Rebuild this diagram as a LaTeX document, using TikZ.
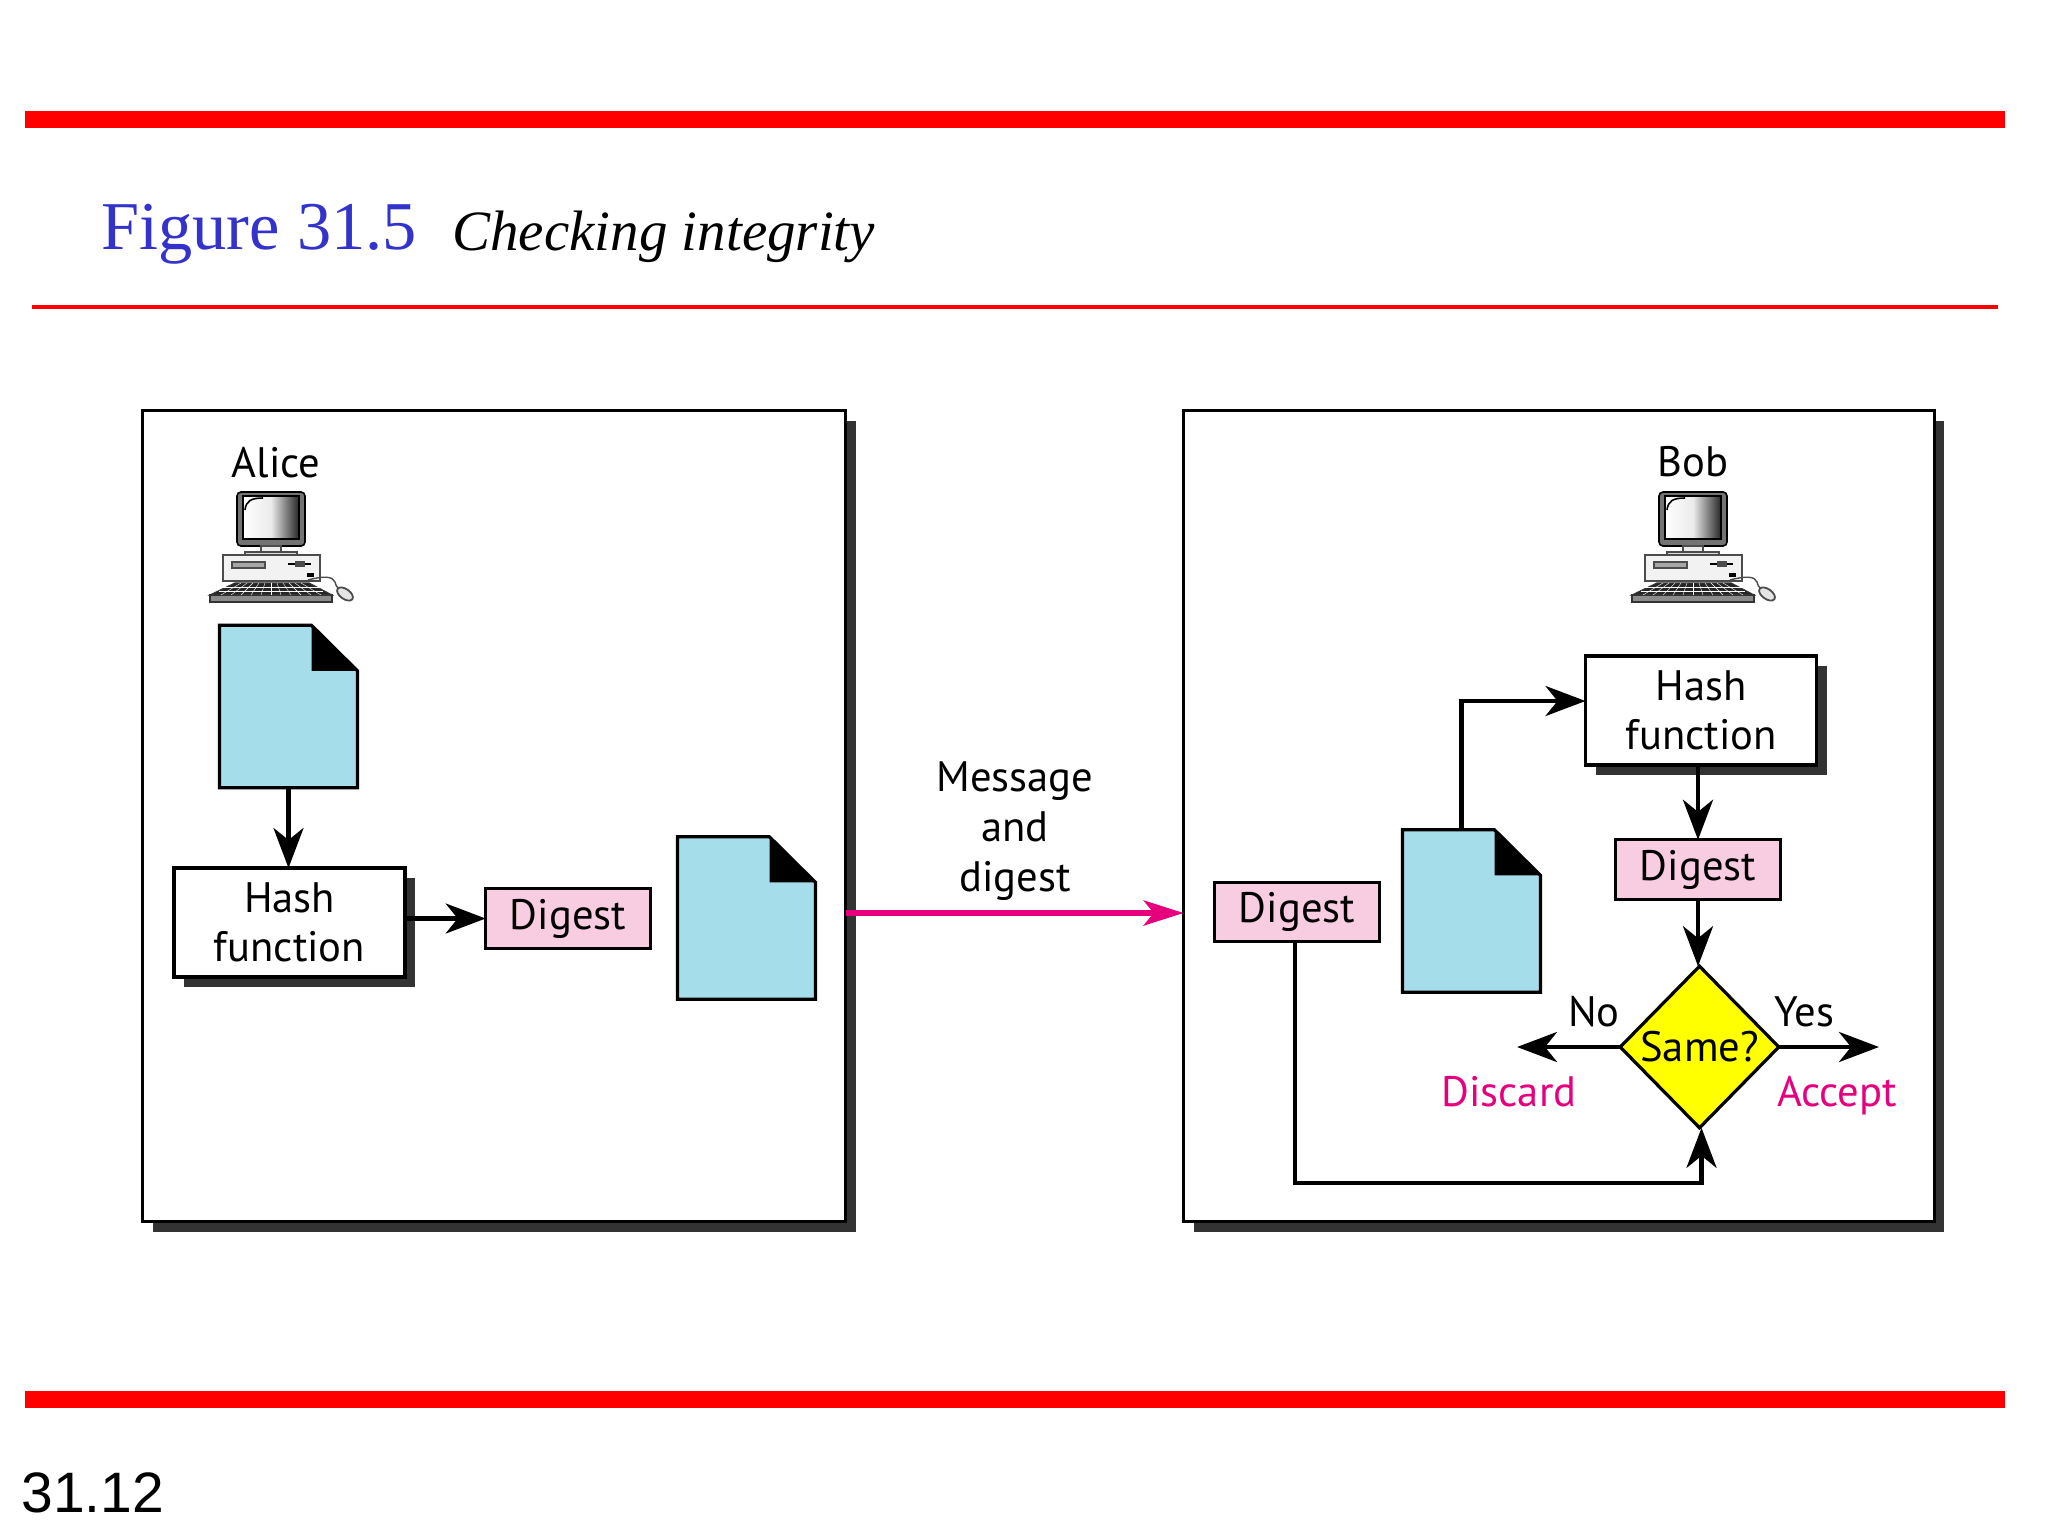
\documentclass[tikz,border=0pt]{standalone}
\usepackage{fontspec}
\setmainfont{PT Sans}
\newfontfamily\titlefont{Liberation Serif}
\newfontfamily\pagefont{Liberation Sans}
\usetikzlibrary{arrows.meta,shapes.geometric,shadows}
\definecolor{barred}{RGB}{255,0,0}
\definecolor{titleblue}{RGB}{51,51,204}
\definecolor{msgpink}{RGB}{230,0,126}
\definecolor{digestpink}{RGB}{248,204,225}
\definecolor{docblue}{RGB}{166,221,234}
\definecolor{sameyellow}{RGB}{255,255,0}
\tikzset{
    label/.style={font=\fontsize{21.3}{24.8}\selectfont,align=center,inner sep=0},
    panel/.style={draw=black,line width=1.6pt,fill=white,outer sep=0,
        drop shadow={shadow xshift=5pt,shadow yshift=-5pt,fill=black!80,opacity=1}},
    hashbox/.style={panel,label,minimum width=115.5pt,minimum height=54.5pt},
    digestbox/.style={draw=black,line width=1.6pt,fill=digestpink,label,outer sep=0,
        minimum width=82.3pt,minimum height=29.7pt},
    docbox/.style={minimum width=69pt,minimum height=81.2pt,inner sep=0,outer sep=0},
    flow/.style={line width=2.2pt,-{Stealth[length=20pt,width=15pt,inset=6pt]}},
    pics/desktop/.style={code={
        % monitor
        \draw[black,line width=0.8pt,fill=black!55,rounded corners=2pt] (-34,0) rectangle (34,54);
        \shade[left color=white,right color=black!85,middle color=black!8] (-28,4) rectangle (28,47);
        \draw[black,line width=0.6pt] (-28,4) rectangle (28,47);
        \draw[black,line width=0.8pt] (-26,18) .. controls (-25,9) and (-20,6) .. (-8,6);
        \draw[black!70,fill=black!8,line width=0.6pt] (-10,54) rectangle (10,61);
        \draw[black!70,fill=black!15,line width=0.6pt] (-26,60) rectangle (26,64);
        % case
        \draw[black!70,fill=black!5,line width=0.9pt] (-48,63) rectangle (49,89);
        \draw[black!70,fill=black!35,line width=0.6pt] (-39,70) rectangle (-6,76);
        \draw[black,line width=1.2pt] (17,72) -- (40,72);
        \fill[black!70] (24,69) rectangle (34,75);
        \fill[black] (36,81) rectangle (43,85);
        % keyboard
        \draw[black!80,fill=black!85,line width=0.6pt] (-36,91) -- (38,91) -- (61,103) -- (-61,103) -- cycle;
        \draw[black!80,fill=black!45,line width=0.8pt] (-61,103) rectangle (61,110);
        \foreach \row in {95,99} {
            \draw[white,line width=0.2pt] (-52,\row) -- (52,\row);
        }
        \foreach \col in {-5,...,5} {
            \draw[white,line width=0.2pt] (\col*6,91) -- (\col*10,103);
        }
        % mouse
        \draw[black!70,line width=0.7pt] (37,88) .. controls (52,84) and (62,84) .. (64,90) .. controls (65,94) and (66,95) .. (68,97);
        \draw[black!70,fill=black!10,line width=0.9pt,rotate around={-35:(74,102)}] (74,102) ellipse (9 and 5);
    }}
}
\newcommand{\docpage}[1]{%
    % sheet over the named box, with the folded corner
    \draw[black,line width=1.6pt,fill=docblue] (#1.north west) -- ([xshift=46pt]#1.north west)
        -- ([yshift=-22.8pt]#1.north east) -- (#1.south east) -- (#1.south west) -- cycle;
    \fill[black] ([xshift=46pt]#1.north west) -- ([yshift=-22.8pt]#1.north east)
        -- ([xshift=46pt,yshift=-22.8pt]#1.north west) -- cycle;
}
\begin{document}
\begin{tikzpicture}[x=0.5pt,y=-0.5pt]
    \useasboundingbox (0,0) rectangle (2048,1536);
    \fill[white] (0,0) rectangle (2048,1536);
    % bars
    \fill[barred] (25,111) rectangle (2005,128);
    \fill[barred] (32,305) rectangle (1998,309);
    \fill[barred] (25,1391) rectangle (2005,1408);
    % heading
    \node[anchor=base west,inner sep=0,text=titleblue,font=\titlefont\fontsize{34.2}{34}\selectfont] (figno) at (101,249) {Figure 31.5};
    \node[anchor=base west,inner sep=0,font=\titlefont\itshape\fontsize{28.5}{28.5}\selectfont] (figname) at (452,250) {Checking integrity};
    \node[anchor=base west,inner sep=0,font=\pagefont\fontsize{28.5}{28.5}\selectfont] (pageno) at (21,1512) {31.12};
    % panels
    \node[panel,minimum width=351.5pt,minimum height=405.5pt] (alicebox) at (494,816) {};
    \node[panel,minimum width=375.3pt,minimum height=405.5pt] (bobbox) at (1559,816) {};
    % alice
    \node[label] (alice) at (276,463) {Alice};
    \pic at (271,492) {desktop};
    \node[docbox] (docA) at (288.5,706.5) {};
    \docpage{docA}
    \node[hashbox] (hashA) at (289.5,922.5) {Hash\\function};
    \node[digestbox] (digestA) at (568,918.5) {Digest};
    \node[docbox] (docB) at (746.5,918) {};
    \docpage{docB}
    \draw[flow] (docA) -- (docA |- hashA.north);
    \draw[flow] (hashA.east |- digestA) -- (digestA);
    % bob
    \node[label] (bob) at (1693,462) {Bob};
    \pic at (1693,492) {desktop};
    \node[hashbox] (hashB) at (1701,710.5) {Hash\\function};
    \node[digestbox] (digestB) at (1698,869.5) {Digest};
    \node[digestbox] (digestC) at (1297,912) {Digest};
    \node[docbox] (docC) at (1471.5,911) {};
    \docpage{docC}
    \node[diamond,aspect=1,draw=black,line width=1.6pt,fill=sameyellow,label,outer sep=0,
        minimum width=79.3pt,minimum height=80.8pt] (same) at (1699.5,1047) {Same?};
    \coordinate (discard) at (1517,1047);
    \coordinate (accept) at (1879,1047);
    \coordinate (corner) at (1461.5,701);
    \coordinate (turn) at (1701.5,1183);
    \coordinate (wire) at (1013.5,913);
    \draw[flow] (docC.north -| corner) |- (hashB.west |- corner);
    \draw[flow] (hashB.south -| digestB) -- (digestB);
    \draw[flow] (digestB) -- (digestB |- same.north);
    \draw[flow] (digestC.south) ++(-2,0) |- (turn) -- (turn |- same.south);
    \draw[flow] (same.west) -- (discard);
    \draw[flow] (same.east) -- (accept);
    \node[label,anchor=base] (no) at (1594,1026) {No};
    \node[label,anchor=base] (yes) at (1804,1026) {Yes};
    \node[label,anchor=base,text=msgpink] (discardtext) at (1509,1106) {Discard};
    \node[label,anchor=base,text=msgpink] (accepttext) at (1837,1106) {Accept};
    % message
    \node[label] (message) at (1015,831) {Message\\and\\digest};
    \draw[line width=2.8pt,draw=msgpink,-{Stealth[length=20pt,width=12.5pt,inset=5pt]}] (alicebox.east |- wire) -- (bobbox.west |- wire);
\end{tikzpicture}
\end{document}
